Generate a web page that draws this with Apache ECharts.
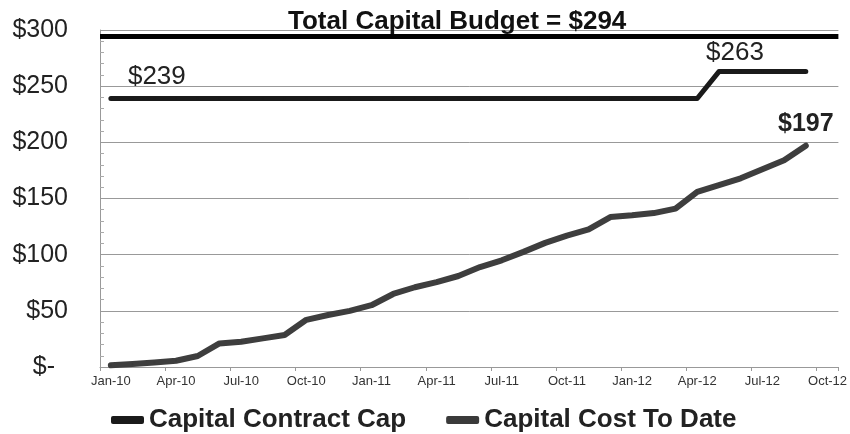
<!DOCTYPE html>
<html>
<head>
<meta charset="utf-8">
<script src="https://cdn.jsdelivr.net/npm/echarts@6/dist/echarts.min.js"></script>
<style>
html,body{margin:0;padding:0;background:#fff;}
#chart{width:850px;height:434px;}
</style>
</head>
<body>
<div id="chart"></div>
<script>
const months = ['Jan-10','Feb-10','Mar-10','Apr-10','May-10','Jun-10','Jul-10','Aug-10','Sep-10','Oct-10','Nov-10','Dec-10',
  'Jan-11','Feb-11','Mar-11','Apr-11','May-11','Jun-11','Jul-11','Aug-11','Sep-11','Oct-11','Nov-11','Dec-11',
  'Jan-12','Feb-12','Mar-12','Apr-12','May-12','Jun-12','Jul-12','Aug-12','Sep-12','Oct-12'];
const contractCap = [239,239,239,239,239,239,239,239,239,239,239,239,
  239,239,239,239,239,239,239,239,239,239,239,239,
  239,239,239,239,263,263,263,263,263];
const costToDate = [1.5,2.7,4,5.6,9.8,21,22.5,25.5,28.5,42,46.3,50,
  55,65,71,75.5,81,89,95,102.5,110.5,117,122.5,133.5,
  135,137,141,156,162,168,176,184,197];
const totalBudget = 294;
const titleText = 'Total Capital Budget = $294';
const seriesNames = ['Capital Contract Cap','Capital Cost To Date'];

const FONT = '"Liberation Sans", Arial, sans-serif';

const capLabel = (pos, v) => ({show: true, position: pos, align: 'center', verticalAlign: 'middle', formatter: '$' + v, fontSize: 26, color: '#222', fontFamily: FONT});
const capData = contractCap.map((v, i) => {
  if (i === 0) return {value: v, label: capLabel([47, -21], v)};
  if (v !== contractCap[i - 1]) return {value: v, label: capLabel([17, -18], v)};
  return v;
});
const costData = costToDate.map((v, i) => {
  if (i === costToDate.length - 1) return {value: v, label: {show: true, position: 'top', distance: 8, formatter: '$' + v, fontSize: 25, fontWeight: 'bold', color: '#222', fontFamily: FONT}};
  return v;
});

const chart = echarts.init(document.getElementById('chart'));
chart.setOption({
  animation: false,
  backgroundColor: '#fff',
  title: {
    text: titleText,
    left: 283, top: 4,
    textStyle: {fontSize: 26, fontWeight: 'bold', color: '#111', fontFamily: FONT}
  },
  legend: {
    data: seriesNames,
    left: 106, top: 402,
    itemGap: 40,
    itemWidth: 33, itemHeight: 8,
    icon: 'roundRect',
    textStyle: {fontSize: 26, fontWeight: 'bold', color: '#222', fontFamily: FONT}
  },
  grid: {left: 100, right: 9, top: 30, bottom: 67, containLabel: false},
  xAxis: {
    type: 'category',
    data: months,
    boundaryGap: true,
    axisLine: {show: true, lineStyle: {color: '#999', width: 1}},
    axisTick: {show: true, interval: 2, length: 4, lineStyle: {color: '#999'}},
    axisLabel: {interval: 2, fontSize: 13, color: '#333', margin: 8, fontFamily: FONT},
    splitLine: {show: false}
  },
  yAxis: {
    type: 'value',
    min: 0, max: 300, interval: 50,
    axisLine: {show: true, lineStyle: {color: '#999', width: 1}},
    axisTick: {show: true, inside: true, length: 5, lineStyle: {color: '#999'}},
    minorTick: {show: true, splitNumber: 5, length: 4, lineStyle: {color: '#aaa'}},
    axisLabel: {
      fontSize: 25, color: '#222', margin: 32, fontFamily: FONT,
      formatter: v => v === 0 ? '{z|$-}' : '$' + v,
      rich: {z: {fontSize: 25, color: '#222', fontFamily: FONT, padding: [0, 13, 0, 0]}}
    },
    splitLine: {show: true, lineStyle: {color: '#999', width: 1}}
  },
  series: [
    {
      name: seriesNames[0],
      type: 'line',
      data: capData,
      symbol: 'circle',
      symbolSize: 2,
      showSymbol: true,
      showAllSymbol: true,
      itemStyle: {color: '#1a1a1a'},
      label: {show: false, fontFamily: FONT},
      labelLayout: {hideOverlap: false},
      lineStyle: {color: '#1a1a1a', width: 5, cap: 'round', join: 'round'},
      markLine: {
        silent: true,
        symbol: ['none', 'none'],
        label: {show: false},
        lineStyle: {color: '#000', width: 5, type: 'solid'},
        data: [{yAxis: totalBudget}]
      },
      z: 3
    },
    {
      name: seriesNames[1],
      type: 'line',
      data: costData,
      symbol: 'circle',
      symbolSize: 2,
      showSymbol: true,
      showAllSymbol: true,
      itemStyle: {color: '#3a3a3a'},
      label: {show: false, fontFamily: FONT},
      lineStyle: {color: '#3e3e3e', width: 6, cap: 'round', join: 'round'},
      z: 4
    }
  ]
});
</script>
</body>
</html>
